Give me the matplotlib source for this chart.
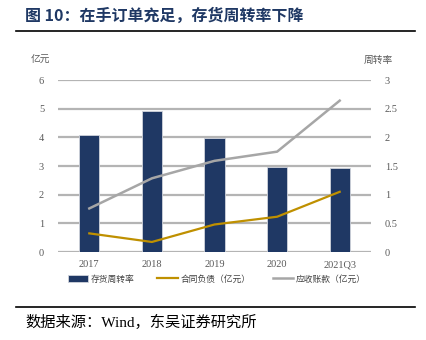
import matplotlib.pyplot as plt
import numpy as np

plt.rcParams['font.family'] = ['Liberation Serif', 'Noto Sans CJK SC', 'DejaVu Sans']

# data
years = ['2017', '2018', '2019', '2020', '2021Q3']
turnover = [2.04, 2.46, 1.98, 1.49, 1.47]          # 存货周转率 (right axis)
contract_liab = [0.65, 0.35, 0.96, 1.23, 2.10]     # 合同负债（亿元）
receivables = [1.52, 2.57, 3.18, 3.50, 5.28]       # 应收账款（亿元）

navy = '#1F3864'
gold = '#BF9000'
grey = '#A6A6A6'
gridc = '#B4B4B4'
cjk = ['Noto Sans CJK SC', 'DejaVu Sans']

fig = plt.figure(figsize=(4.27, 3.40), dpi=100)
ax = fig.add_axes([58 / 427, 1 - 252 / 340, 313 / 427, 172 / 340])
ax2 = ax.twinx()

x = np.arange(len(years))
ax2.bar(x, turnover, width=0.32, color=navy, edgecolor='#D0D4DC', linewidth=0.6,
        label='存货周转率', zorder=2)
ax.plot(x, contract_liab, color=gold, lw=1.6, label='合同负债（亿元）', zorder=3)
ax.plot(x, receivables, color=grey, lw=1.8, label='应收账款（亿元）', zorder=3)

ax.set_zorder(ax2.get_zorder() + 1)
ax.patch.set_visible(False)

ax.set_ylim(0, 6)
ax2.set_ylim(0, 3)
ax.set_xlim(-0.5, len(years) - 0.5)
ax.set_yticks(range(0, 7))
ax2.set_yticks([0, 0.5, 1, 1.5, 2, 2.5, 3])
ax2.set_yticklabels(['0', '0.5', '1', '1.5', '2', '2.5', '3'])
ax.set_xticks(x)
ax.set_xticklabels(years, fontsize=5.5, color='#404040')

for a in (ax, ax2):
    for s in a.spines.values():
        s.set_visible(False)
    a.tick_params(length=0, colors='#595959', labelsize=7.5)
ax.tick_params(axis='x', pad=6)
ax.tick_params(axis='y', pad=10)
ax2.tick_params(axis='y', pad=10)

for v in range(0, 7):
    ax2.axhline(v / 2, color=gridc, lw=1.6, zorder=0)

fig.text(40 / 427, 1 - 60 / 340, '亿元', fontsize=7, color='#595959', family=cjk,
         ha='center', va='center')
fig.text(378 / 427, 1 - 60 / 340, '周转率', fontsize=7, color='#595959', family=cjk,
         ha='center', va='center')

# legend
h1, l1 = ax2.get_legend_handles_labels()
h2, l2 = ax.get_legend_handles_labels()
fig.legend(h1 + h2, l1 + l2, loc='center', bbox_to_anchor=(217 / 427, 1 - 279 / 340),
           ncol=3, frameon=False, prop={'family': cjk, 'size': 6.3},
           handlelength=2.3, handletextpad=0.3, columnspacing=2.6, labelcolor='#404040')

# title and source
fig.text(25 / 427, 1 - 16 / 340, '图 10：在手订单充足，存货周转率下降', fontsize=11.5,
         fontweight='bold', color='#1F3864', family=cjk, va='center')
fig.add_artist(plt.Line2D([16 / 427, 415 / 427], [1 - 31 / 340] * 2, color='black', lw=1.2))
fig.add_artist(plt.Line2D([16 / 427, 415 / 427], [1 - 307 / 340] * 2, color='black', lw=1.2))
fig.text(25 / 427, 1 - 322 / 340, '数据来源：Wind，东吴证券研究所', fontsize=11,
         color='black', family=['Liberation Serif', 'Noto Sans CJK SC', 'DejaVu Sans'],
         va='center')

fig.savefig('out.png', dpi=100)
